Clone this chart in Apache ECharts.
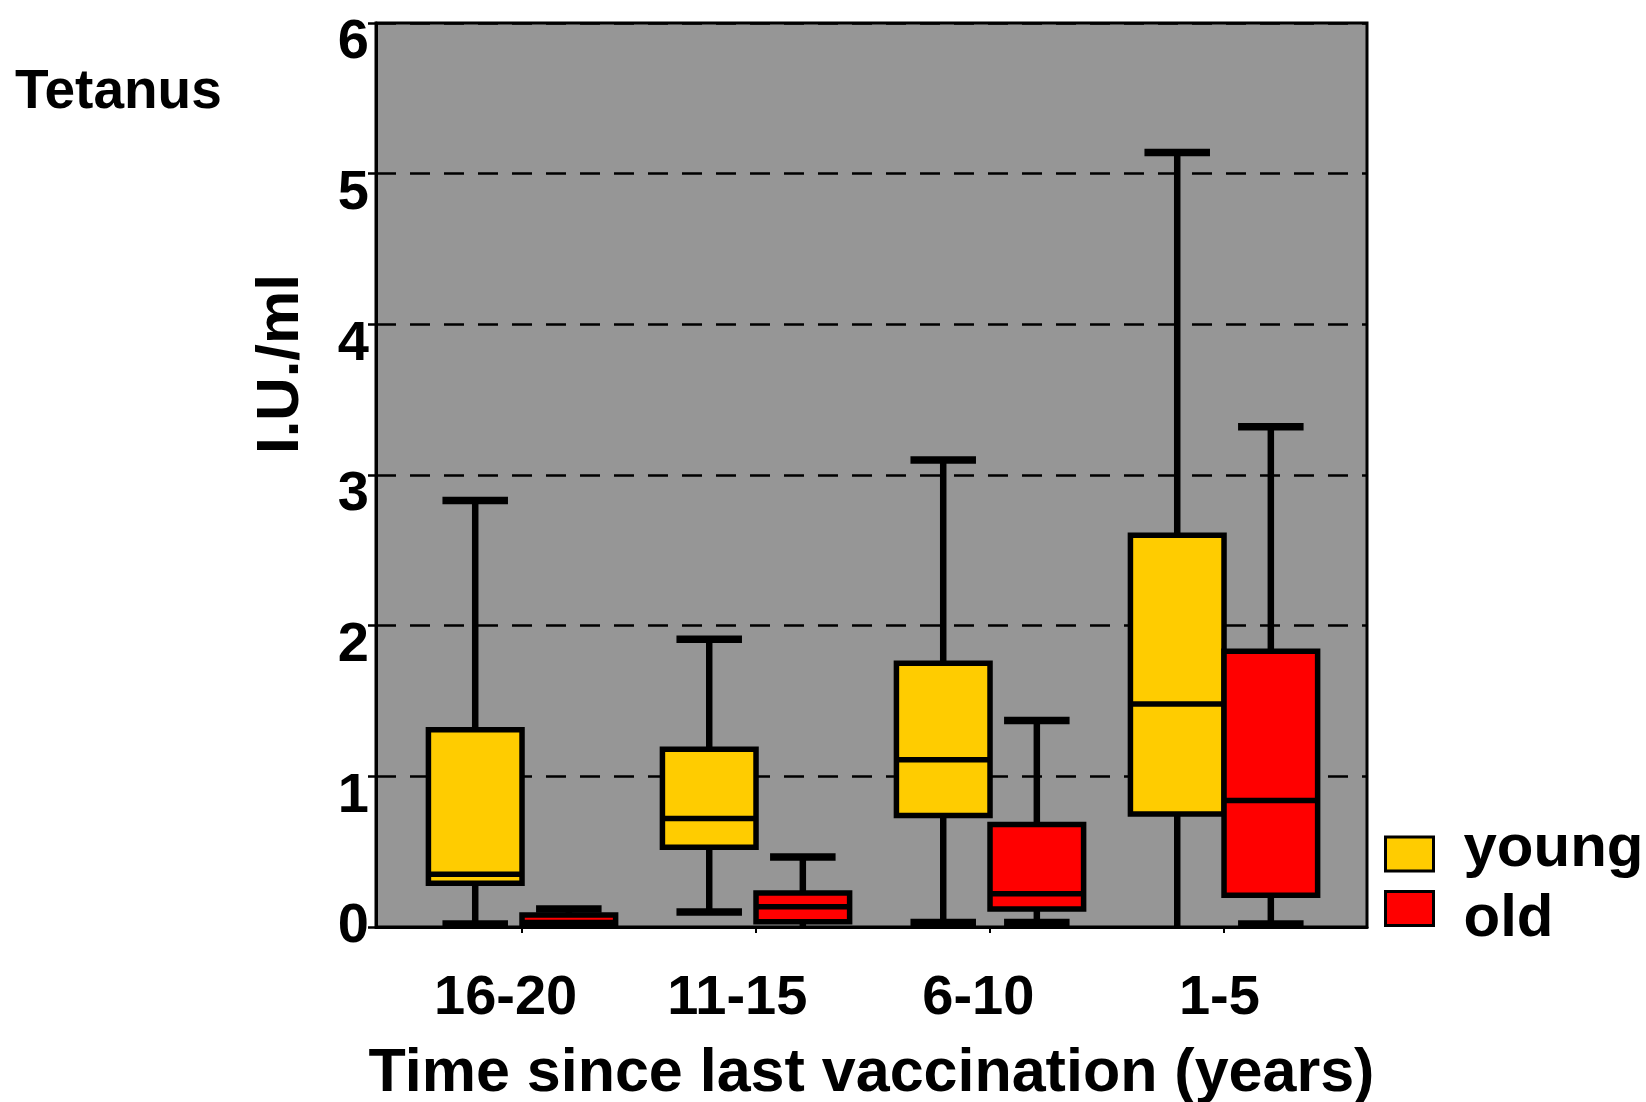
<!DOCTYPE html>
<html>
<head>
<meta charset="utf-8">
<script src="https://cdn.jsdelivr.net/npm/echarts@6/dist/echarts.min.js"></script>
<style>
html,body{margin:0;padding:0;background:#fff;}
#chart{width:1646px;height:1102px;}
</style>
</head>
<body>
<div id="chart"></div>
<script>
// ---- data ----
const categories = ['16-20', '11-15', '6-10', '1-5'];
const groupPos = [1, 2, 3, 4];
const labelPos = [0.93, 1.92, 2.95, 3.98];
// [min, Q1, median, Q3, max]
const youngStats = [
  [0.02, 0.29, 0.35, 1.31, 2.83],
  [0.10, 0.53, 0.72, 1.18, 1.91],
  [0.03, 0.74, 1.11, 1.75, 3.10],
  [0.00, 0.75, 1.48, 2.60, 5.14]
];
const oldStats = [
  [0.00, 0.02, 0.03, 0.08, 0.12],
  [0.00, 0.035, 0.135, 0.225, 0.465],
  [0.03, 0.12, 0.22, 0.68, 1.37],
  [0.02, 0.21, 0.84, 1.83, 3.32]
];
const seriesNames = ['young', 'old'];
const yMin = 0, yMax = 6, yInterval = 1;

// ---- style ----
const FONT = 'Liberation Sans, Arial, Helvetica, sans-serif';
const BOX_W = 0.4;
const CAP_W = 0.28;
const COLORS = ['#FFCC00', '#FF0000'];

function makeRender(fill) {
  return function (params, api) {
    const x = api.value(0);
    const mn = api.value(1), q1 = api.value(2), md = api.value(3), q3 = api.value(4), mx = api.value(5);
    const w = api.size([BOX_W, 0])[0];
    const cw = api.size([CAP_W, 0])[0];
    const c = api.coord([x, 0])[0];
    const Y = v => api.coord([x, v])[1];
    const yMn = Y(mn), yQ1 = Y(q1), yMd = Y(md), yQ3 = Y(q3), yMx = Y(mx);
    const blk = (lw) => ({ stroke: '#000', lineWidth: lw, fill: null });
    const children = [
      { type: 'line', shape: { x1: c, y1: yMx, x2: c, y2: yQ3 }, style: blk(6.5) },
      { type: 'line', shape: { x1: c, y1: yQ1, x2: c, y2: yMn }, style: blk(6.5) },
      { type: 'line', shape: { x1: c - cw / 2, y1: yMx, x2: c + cw / 2, y2: yMx }, style: blk(7.5) }
    ];
    if (mn > 0) {
      children.push({ type: 'line', shape: { x1: c - cw / 2, y1: yMn, x2: c + cw / 2, y2: yMn }, style: blk(7.5) });
    }
    children.push({ type: 'rect', shape: { x: c - w / 2, y: yQ3, width: w, height: yQ1 - yQ3 },
      style: { fill: fill, stroke: '#000', lineWidth: 5.5 } });
    children.push({ type: 'line', shape: { x1: c - w / 2, y1: yMd, x2: c + w / 2, y2: yMd }, style: blk(5.5) });
    return { type: 'group', children: children };
  };
}

const youngData = youngStats.map((s, i) => [groupPos[i] - BOX_W / 2].concat(s));
const oldData = oldStats.map((s, i) => [groupPos[i] + BOX_W / 2].concat(s));

const legendText = { fontFamily: FONT, fontWeight: 'bold', fontSize: 60, color: '#000' };
function legendFor(i, top, pad) {
  return {
    orient: 'vertical', left: 1384, top: top, padding: 0, itemWidth: 48, itemHeight: 34,
    icon: 'rect', selectedMode: false,
    formatter: n => '{t|' + n + '}',
    textStyle: Object.assign({ rich: { t: Object.assign({ padding: pad }, legendText) } }, legendText),
    data: [{ name: seriesNames[i], itemStyle: { color: COLORS[i], borderColor: '#000', borderWidth: 3 } }]
  };
}

const chart = echarts.init(document.getElementById('chart'), null, { renderer: 'canvas' });
chart.setOption({
  animation: false,
  backgroundColor: '#fff',
  title: {
    text: 'Tetanus', left: 15, top: 65, padding: 0,
    textStyle: { fontFamily: FONT, fontWeight: 'bold', fontSize: 55, color: '#000' }
  },
  legend: [
    legendFor(0, 819, [0, 0, 10, 25]),
    legendFor(1, 889, [21, 0, 0, 25])
  ],
  grid: {
    left: 376, right: 279, top: 23, bottom: 175,
    containLabel: false, outerBoundsMode: 'none',
    show: true, backgroundColor: '#969696', borderColor: '#000', borderWidth: 3
  },
  xAxis: {
    type: 'value', min: 0.376, max: 4.611,
    name: 'Time since last vaccination (years)', nameLocation: 'middle', nameGap: 117,
    nameTextStyle: { fontFamily: FONT, fontWeight: 'bold', fontSize: 61, color: '#000' },
    axisLine: { show: true, lineStyle: { color: '#000', width: 3 } },
    axisTick: { show: true, customValues: groupPos, length: 6, lineStyle: { color: '#000', width: 2 } },
    axisLabel: {
      customValues: labelPos, margin: 44,
      formatter: v => categories[Math.round(v) - 1],
      fontFamily: FONT, fontWeight: 'bold', fontSize: 56, color: '#000'
    },
    splitLine: { show: false }
  },
  yAxis: {
    type: 'value', min: yMin, max: yMax, interval: yInterval,
    name: 'I.U./ml', nameLocation: 'middle', nameGap: 65, nameRotate: 90,
    nameTextStyle: { fontFamily: FONT, fontWeight: 'bold', fontSize: 60, color: '#000', padding: [0, 0, 0, 222] },
    axisLine: { show: true, lineStyle: { color: '#000', width: 3 } },
    axisTick: { show: true, length: 8, lineStyle: { color: '#000', width: 2.5 } },
    axisLabel: {
      margin: 7,
      formatter: v => v === 0 ? '{z|0}' : '{a|' + v + '}',
      rich: {
        a: { fontFamily: FONT, fontWeight: 'bold', fontSize: 56, color: '#000', padding: [40, 0, 0, 0] },
        z: { fontFamily: FONT, fontWeight: 'bold', fontSize: 56, color: '#000', padding: [0, 0, 0, 0] }
      }
    },
    splitLine: { show: true, lineStyle: { color: '#000', width: 2.5, type: [20, 14] } }
  },
  series: [
    { name: seriesNames[0], type: 'custom', renderItem: makeRender(COLORS[0]), data: youngData,
      itemStyle: { color: COLORS[0] }, encode: { x: 0, y: [1, 2, 3, 4, 5] }, z: 3 },
    { name: seriesNames[1], type: 'custom', renderItem: makeRender(COLORS[1]), data: oldData,
      itemStyle: { color: COLORS[1] }, encode: { x: 0, y: [1, 2, 3, 4, 5] }, z: 3 }
  ]
});
</script>
</body>
</html>
